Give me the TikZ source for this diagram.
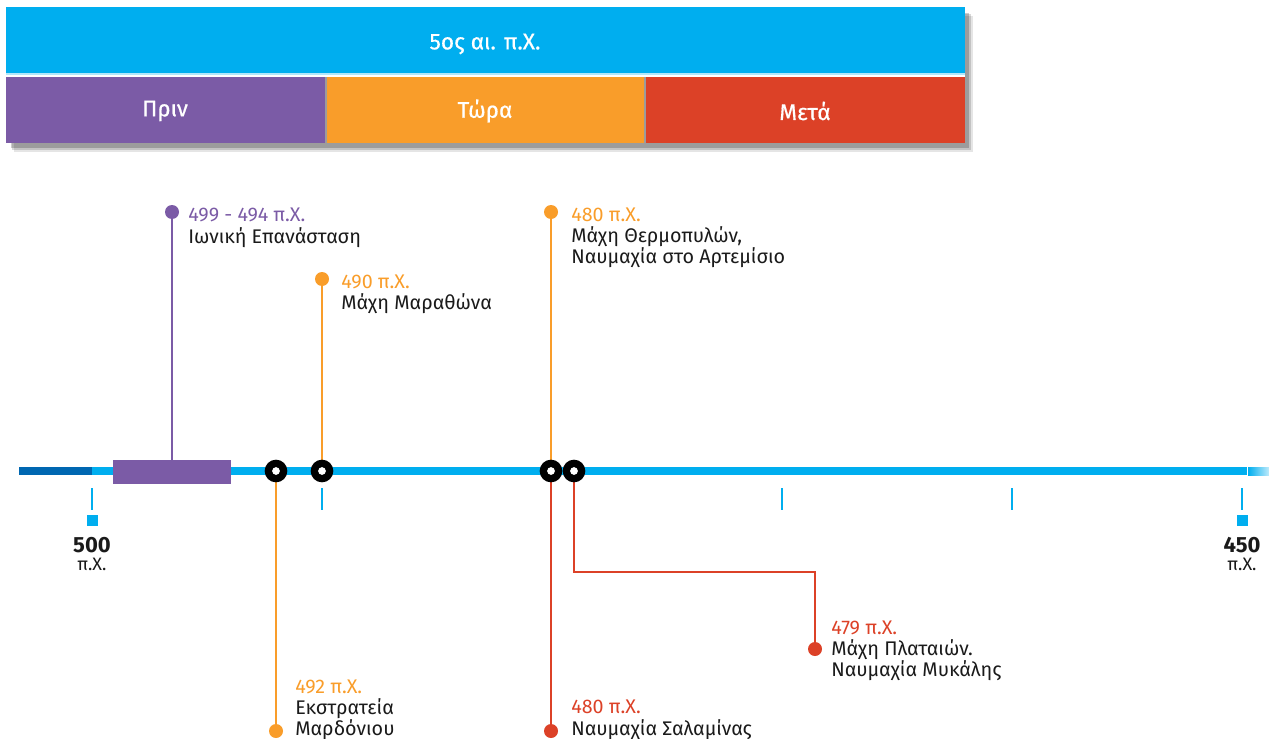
\documentclass[tikz,border=0pt]{standalone}
\usepackage{fontspec}
\setmainfont{Fira Sans}
\newfontfamily\hdrfont[FakeBold=0.6]{Fira Sans}
\definecolor{cblue}{HTML}{00AEEF}
\definecolor{cdblue}{HTML}{0067B1}
\definecolor{cpurple}{HTML}{7B5BA6}
\definecolor{corange}{HTML}{F99D2A}
\definecolor{cred}{HTML}{DC4127}
\definecolor{ctext}{HTML}{1A1A1A}
\tikzset{
  hdr/.style={font=\hdrfont\fontsize{17pt}{20pt}\selectfont, text=white},
  lbl/.style={anchor=base west, inner sep=0pt, font=\fontsize{14.8pt}{17pt}\selectfont, text=ctext},
  yr/.style={lbl},
  lead/.style={line width=1.5pt},
  ring/.style={circle, fill=black, minimum size=17pt, inner sep=0pt},
  hole/.style={circle, fill=white, minimum size=5.8pt, inner sep=0pt},
  enddot/.style={circle, minimum size=10.5pt, inner sep=0pt},
  tick/.style={cblue, line width=1.8pt},
  tsq/.style={fill=cblue, minimum size=8.25pt, inner sep=0pt},
  axnum/.style={font=\fontsize{16.5pt}{18pt}\selectfont\bfseries, text=ctext, inner sep=0pt, anchor=base},
  axsub/.style={font=\fontsize{13.5pt}{15pt}\selectfont, text=ctext, inner sep=0pt, anchor=base}
}
\begin{document}
\begin{tikzpicture}[x=0.75pt, y=-0.75pt]
\useasboundingbox (0,0) rectangle (1269,738);
% header shadow
\fill[black, opacity=0.10] (14,16) rectangle (973,152);
\fill[black, opacity=0.15] (12,14) rectangle (971,150);
\fill[black, opacity=0.2] (11,13) rectangle (969,148);
% header
\fill[cblue] (6,7) rectangle (965,73);
\fill[cblue!30] (6,73) rectangle (965,76);
\fill[white] (6,75) rectangle (965,77);
\fill[cpurple] (6,77) rectangle (324.5,143);
\fill[corange] (326.5,77) rectangle (644,143);
\fill[cred] (646,77) rectangle (965,143);
\node[hdr] (h0) at (485,44) {5ος αι. π.Χ.};
\node[hdr] (h1) at (165,111) {Πριν};
\node[hdr] (h2) at (485,111) {Τώρα};
\node[hdr] (h3) at (805,111) {Μετά};
% timeline
\fill[cdblue] (19,467) rectangle (92,475);
\fill[cblue] (92,467) rectangle (1247,475);
\shade[left color=cblue, right color=cblue!25] (1248,467) rectangle (1269,475);
\fill[cpurple] (113,460) rectangle (231,484);
% ticks
\foreach \x/\n in {92/a,322/b,782/c,1012/d,1242/e} {
  \coordinate (t\n) at (\x,488);
  \coordinate (u\n) at (\x,510);
  \draw[tick] (t\n) -- (u\n);
}
\node[tsq] (sqa) at (92,520.5) {};
\node[tsq] (sqe) at (1242,520.5) {};
\node[axnum] (n500) at (92,552) {500};
\node[axsub] (s500) at (92,570) {π.Χ.};
\node[axnum] (n450) at (1242,552) {450};
\node[axsub] (s450) at (1242,570) {π.Χ.};
% leader lines and end dots
\node[enddot, fill=cpurple] (d1) at (172,212) {};
\coordinate (p1) at (172,460);
\draw[lead, cpurple] (d1.center) -- (p1);
\node[enddot, fill=corange] (d2) at (322,279) {};
\node[enddot, fill=corange] (d3) at (551,212) {};
\node[enddot, fill=corange] (d4) at (276,731) {};
\node[enddot, fill=cred] (d5) at (551,731) {};
\node[enddot, fill=cred] (d6) at (815,649) {};
\coordinate (m492) at (276,471);
\coordinate (m490) at (322,471);
\coordinate (m480) at (551,471);
\coordinate (m479) at (574,471);
\coordinate (bend1) at (574,572);
\coordinate (bend2) at (815,572);
\draw[lead, corange] (d2.center) -- (m490);
\draw[lead, corange] (d3.center) -- (m480);
\draw[lead, corange] (m492) -- (d4.center);
\draw[lead, cred] (m480) -- (d5.center);
\draw[lead, cred] (m479) -- (bend1) -- (bend2) -- (d6.center);
% rings
\foreach \c/\n in {m492/r1,m490/r2,m480/r3,m479/r4} {
  \node[ring] (\n) at (\c) {};
  \node[hole] (\n h) at (\c) {};
}
% labels
\node[yr, text=cpurple] (y1) at (188,221) {499 - 494 π.Χ.};
\node[lbl] (l1) at (188,243) {Ιωνική Επανάσταση};
\node[yr, text=corange] (y2) at (341,288) {490 π.Χ.};
\node[lbl] (l2) at (341,309) {Μάχη Μαραθώνα};
\node[yr, text=corange] (y3) at (571,221) {480 π.Χ.};
\node[lbl] (l3a) at (571,242) {Μάχη Θερμοπυλών,};
\node[lbl] (l3b) at (571,263) {Ναυμαχία στο Αρτεμίσιο};
\node[yr, text=cred] (y6) at (831,634) {479 π.Χ.};
\node[lbl] (l6a) at (831,655) {Μάχη Πλαταιών.};
\node[lbl] (l6b) at (831,676) {Ναυμαχία Μυκάλης};
\node[yr, text=corange] (y4) at (295,693) {492 π.Χ.};
\node[lbl] (l4a) at (295,714) {Εκστρατεία};
\node[lbl] (l4b) at (295,735) {Μαρδόνιου};
\node[yr, text=cred] (y5) at (571,713) {480 π.Χ.};
\node[lbl] (l5) at (571,735) {Ναυμαχία Σαλαμίνας};
\end{tikzpicture}
\end{document}
